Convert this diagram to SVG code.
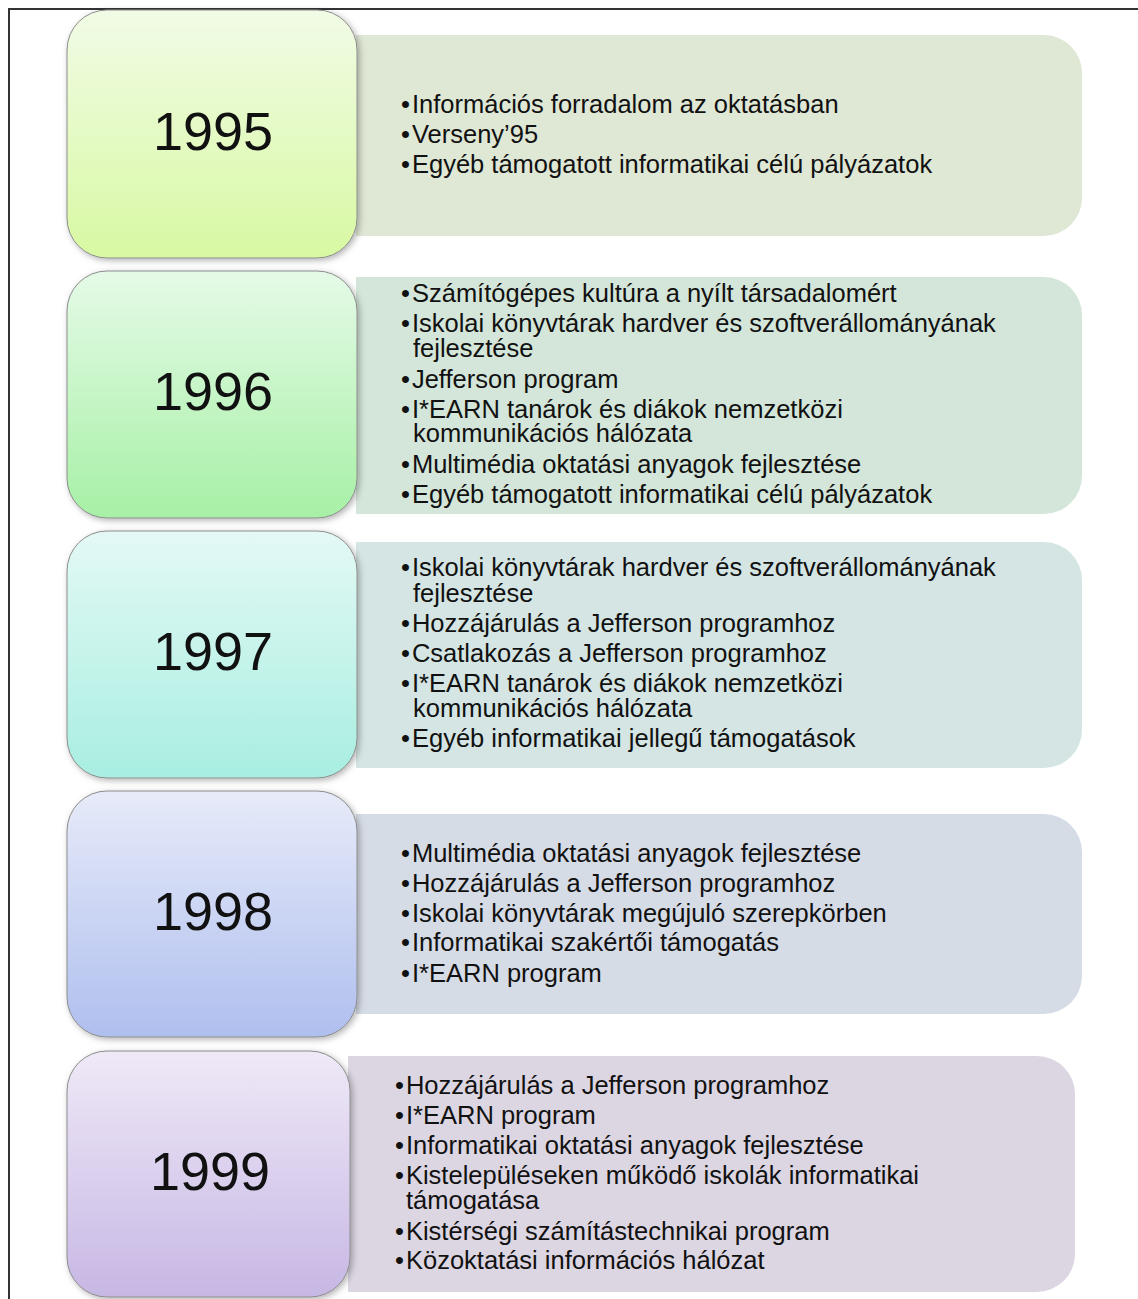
<svg xmlns="http://www.w3.org/2000/svg" width="1138" height="1299" viewBox="0 0 1138 1299">
  <style>
    .frame { fill: none; stroke: #333; stroke-width: 2; }
    .year { stroke: #8c8c8c; stroke-width: 1; filter: url(#shade); }
    .yr { font-family: "Liberation Sans", Arial, sans-serif; font-size: 54px; fill: #111; text-anchor: middle; }
    .item { font-family: "Liberation Sans", Arial, sans-serif; font-size: 25.5px; fill: #111; }
  </style>
  <defs>
    <filter id="shade" x="-10%" y="-10%" width="125%" height="125%">
      <feDropShadow dx="2" dy="2" stdDeviation="3" flood-color="#000" flood-opacity="0.3"/>
    </filter>
    <linearGradient id="g95" x1="0" y1="0" x2="0" y2="1">
      <stop offset="0" stop-color="#F1FBE6"/><stop offset="1" stop-color="#D8F9A2"/>
    </linearGradient>
    <linearGradient id="g96" x1="0" y1="0" x2="0" y2="1">
      <stop offset="0" stop-color="#E5FAE7"/><stop offset="1" stop-color="#A7F0A6"/>
    </linearGradient>
    <linearGradient id="g97" x1="0" y1="0" x2="0" y2="1">
      <stop offset="0" stop-color="#E4F9F5"/><stop offset="1" stop-color="#A8EEE1"/>
    </linearGradient>
    <linearGradient id="g98" x1="0" y1="0" x2="0" y2="1">
      <stop offset="0" stop-color="#E7EBF9"/><stop offset="1" stop-color="#AFBFEE"/>
    </linearGradient>
    <linearGradient id="g99" x1="0" y1="0" x2="0" y2="1">
      <stop offset="0" stop-color="#EFE9F7"/><stop offset="1" stop-color="#C7B7E4"/>
    </linearGradient>
  </defs>

  <rect width="1138" height="1299" fill="#fff"/>
  <!-- page frame (left and top edges) -->
  <path class="frame" d="M9 1299 V9 H1138"/>

  <!-- no connectors in this layout -->
  <g id="connectors"/>

  <!-- 1995 -->
  <g id="node-1995">
    <path d="M356 35 H1044 A38 38 0 0 1 1082 73 V198 A38 38 0 0 1 1044 236 H356 Z" fill="#DFE7D5"/>
    <rect class="year" x="67" y="10" width="290" height="248" rx="40" fill="url(#g95)"/>
    <text class="yr" x="213" y="150">1995</text>
    <text class="item" x="401" y="113">•<tspan dx="2">Információs forradalom az oktatásban</tspan></text>
    <text class="item" x="401" y="143">•<tspan dx="2">Verseny’95</tspan></text>
    <text class="item" x="401" y="173">•<tspan dx="2">Egyéb támogatott informatikai célú pályázatok</tspan></text>
  </g>

  <!-- 1996 -->
  <g id="node-1996">
    <path d="M356 277 H1044 A38 38 0 0 1 1082 315 V476 A38 38 0 0 1 1044 514 H356 Z" fill="#D4E6D9"/>
    <rect class="year" x="67" y="271" width="290" height="247" rx="40" fill="url(#g96)"/>
    <text class="yr" x="213" y="410">1996</text>
    <text class="item" x="401" y="302">•<tspan dx="2">Számítógépes kultúra a nyílt társadalomért</tspan></text>
    <text class="item" x="401" y="332">•<tspan dx="2">Iskolai könyvtárak hardver és szoftverállományának</tspan></text>
    <text class="item" x="413" y="357">fejlesztése</text>
    <text class="item" x="401" y="388">•<tspan dx="2">Jefferson program</tspan></text>
    <text class="item" x="401" y="418">•<tspan dx="2">I*EARN tanárok és diákok nemzetközi</tspan></text>
    <text class="item" x="413" y="442">kommunikációs hálózata</text>
    <text class="item" x="401" y="473">•<tspan dx="2">Multimédia oktatási anyagok fejlesztése</tspan></text>
    <text class="item" x="401" y="503">•<tspan dx="2">Egyéb támogatott informatikai célú pályázatok</tspan></text>
  </g>

  <!-- 1997 -->
  <g id="node-1997">
    <path d="M356 542 H1044 A38 38 0 0 1 1082 580 V730 A38 38 0 0 1 1044 768 H356 Z" fill="#D4E5E3"/>
    <rect class="year" x="67" y="531" width="290" height="247" rx="40" fill="url(#g97)"/>
    <text class="yr" x="213" y="670">1997</text>
    <text class="item" x="401" y="576">•<tspan dx="2">Iskolai könyvtárak hardver és szoftverállományának</tspan></text>
    <text class="item" x="413" y="602">fejlesztése</text>
    <text class="item" x="401" y="632">•<tspan dx="2">Hozzájárulás a Jefferson programhoz</tspan></text>
    <text class="item" x="401" y="662">•<tspan dx="2">Csatlakozás a Jefferson programhoz</tspan></text>
    <text class="item" x="401" y="692">•<tspan dx="2">I*EARN tanárok és diákok nemzetközi</tspan></text>
    <text class="item" x="413" y="717">kommunikációs hálózata</text>
    <text class="item" x="401" y="747">•<tspan dx="2">Egyéb informatikai jellegű támogatások</tspan></text>
  </g>

  <!-- 1998 -->
  <g id="node-1998">
    <path d="M356 814 H1044 A38 38 0 0 1 1082 852 V976 A38 38 0 0 1 1044 1014 H356 Z" fill="#D6DCE6"/>
    <rect class="year" x="67" y="791" width="290" height="246" rx="40" fill="url(#g98)"/>
    <text class="yr" x="213" y="930">1998</text>
    <text class="item" x="401" y="862">•<tspan dx="2">Multimédia oktatási anyagok fejlesztése</tspan></text>
    <text class="item" x="401" y="892">•<tspan dx="2">Hozzájárulás a Jefferson programhoz</tspan></text>
    <text class="item" x="401" y="922">•<tspan dx="2">Iskolai könyvtárak megújuló szerepkörben</tspan></text>
    <text class="item" x="401" y="951">•<tspan dx="2">Informatikai szakértői támogatás</tspan></text>
    <text class="item" x="401" y="982">•<tspan dx="2">I*EARN program</tspan></text>
  </g>

  <!-- 1999 -->
  <g id="node-1999">
    <path d="M348 1056 H1037 A38 38 0 0 1 1075 1094 V1254 A38 38 0 0 1 1037 1292 H348 Z" fill="#DCD6E2"/>
    <rect class="year" x="67" y="1051" width="283" height="246" rx="40" fill="url(#g99)"/>
    <text class="yr" x="210" y="1190">1999</text>
    <text class="item" x="395" y="1094">•<tspan dx="2">Hozzájárulás a Jefferson programhoz</tspan></text>
    <text class="item" x="395" y="1124">•<tspan dx="2">I*EARN program</tspan></text>
    <text class="item" x="395" y="1154">•<tspan dx="2">Informatikai oktatási anyagok fejlesztése</tspan></text>
    <text class="item" x="395" y="1184">•<tspan dx="2">Kistelepüléseken működő iskolák informatikai</tspan></text>
    <text class="item" x="406" y="1209">támogatása</text>
    <text class="item" x="395" y="1240">•<tspan dx="2">Kistérségi számítástechnikai program</tspan></text>
    <text class="item" x="395" y="1269">•<tspan dx="2">Közoktatási információs hálózat</tspan></text>
  </g>
</svg>
